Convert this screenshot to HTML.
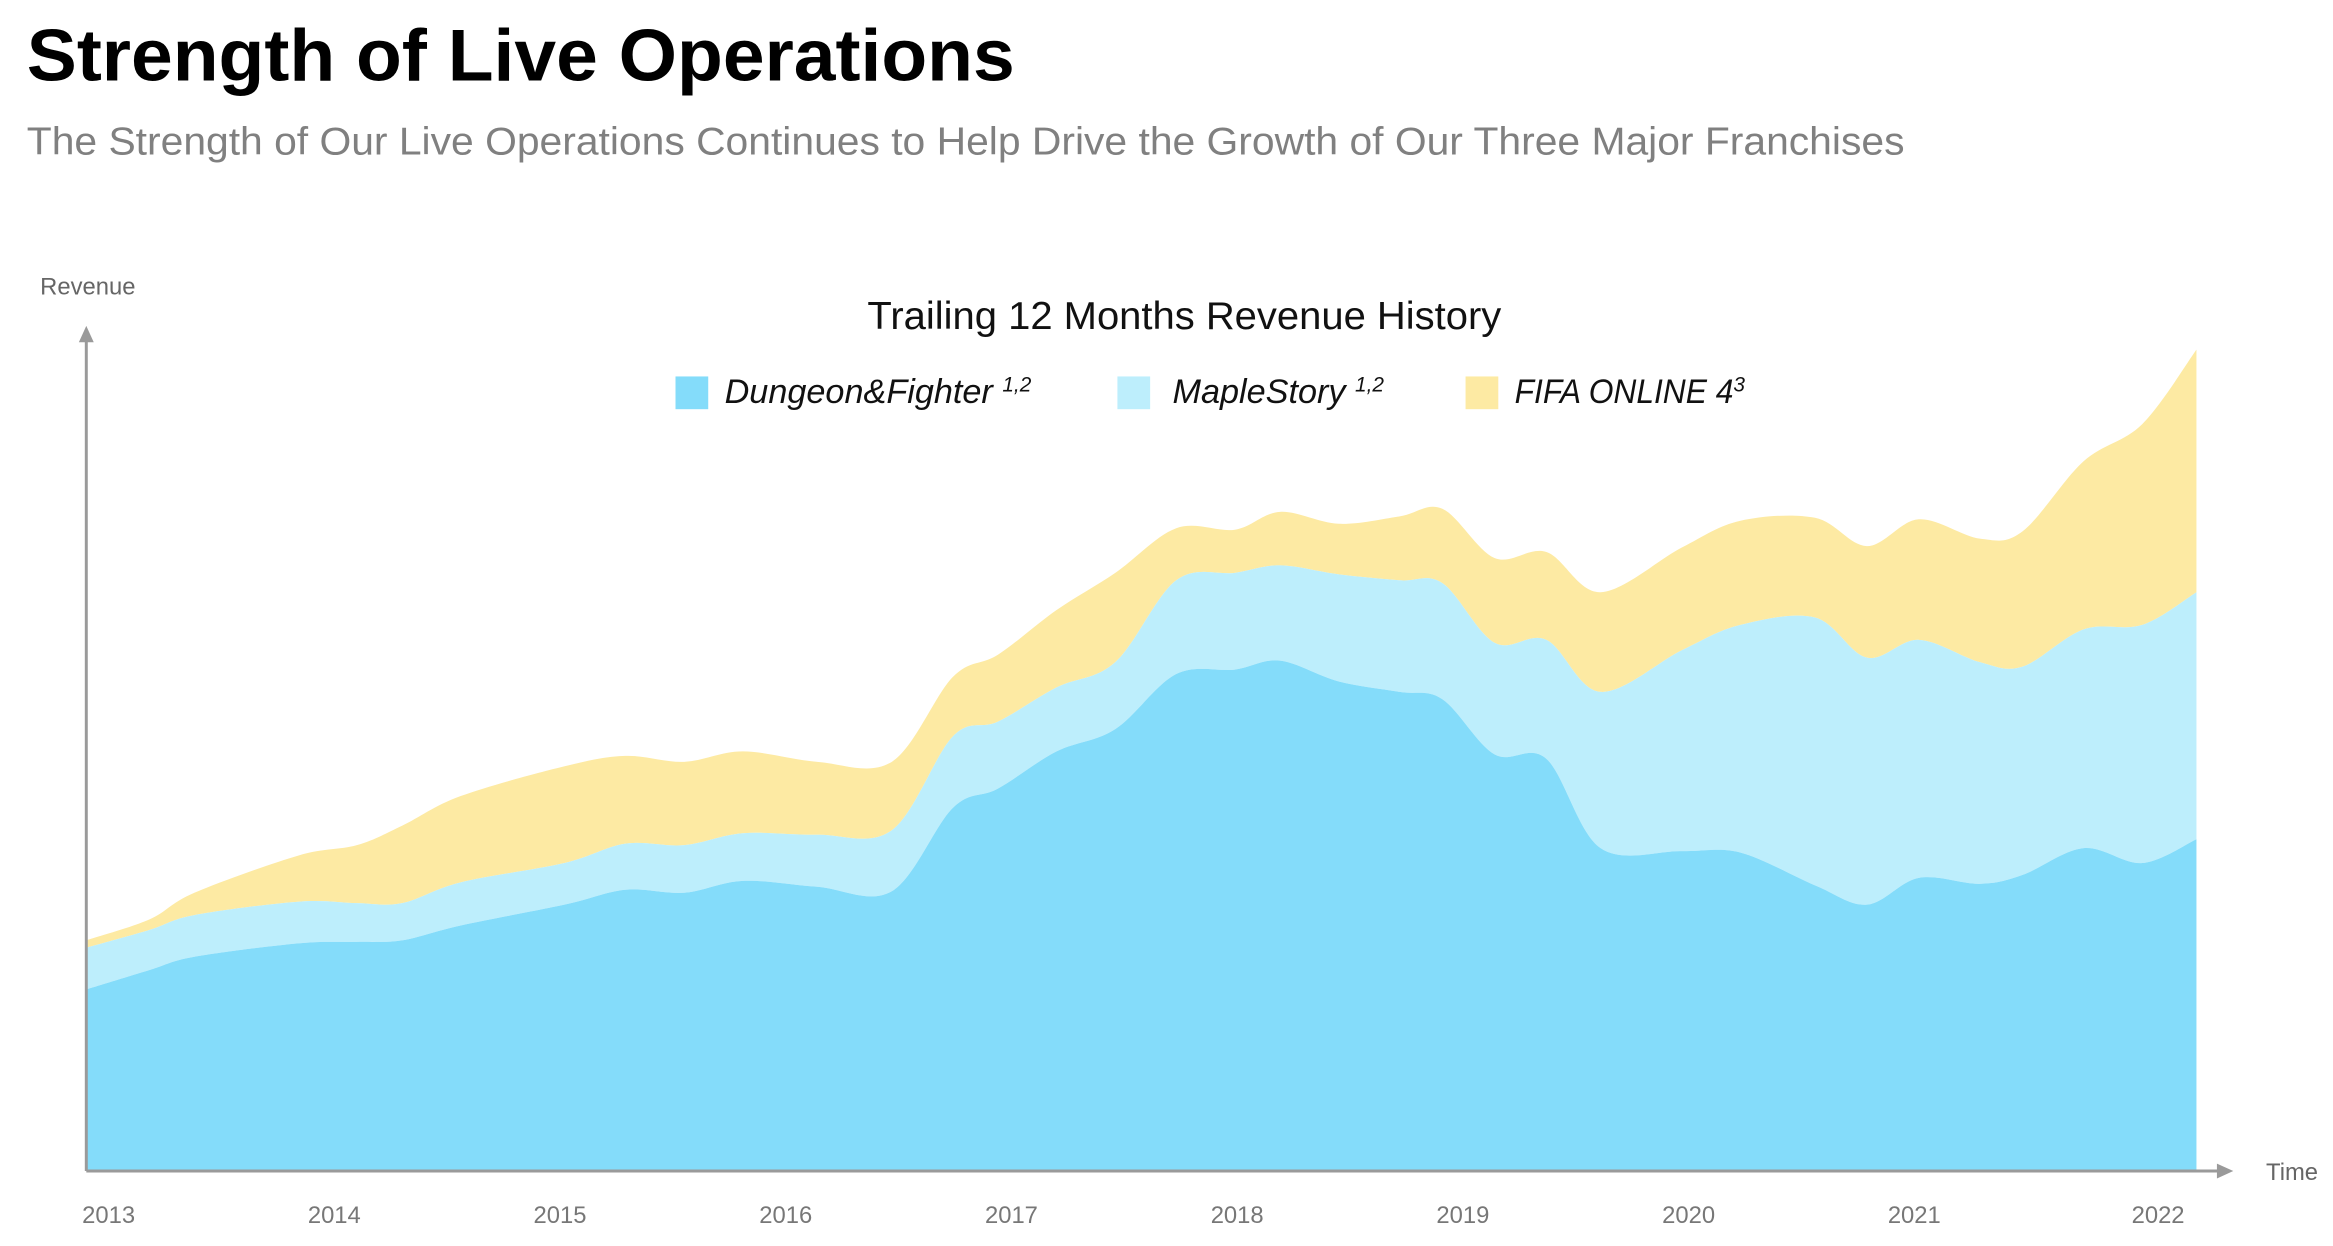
<!DOCTYPE html>
<html><head><meta charset="utf-8"><style>
html,body{margin:0;padding:0;background:#fff;}
svg{display:block;}
</style></head><body>
<svg id="chart" width="2333" height="1246" viewBox="0 0 1568 837.4" preserveAspectRatio="none" xmlns="http://www.w3.org/2000/svg" font-family="Liberation Sans, sans-serif">
<text x="18" y="54" font-size="49" font-weight="bold" fill="#000" textLength="664" lengthAdjust="spacingAndGlyphs">Strength of Live Operations</text>
<text x="18" y="104" font-size="26" fill="#808080" textLength="1262" lengthAdjust="spacingAndGlyphs">The Strength of Our Live Operations Continues to Help Drive the Growth of Our Three Major Franchises</text>
<text x="796" y="221" font-size="26" fill="#111" text-anchor="middle" textLength="426" lengthAdjust="spacingAndGlyphs">Trailing 12 Months Revenue History</text>
<g id="areas"></g>
<g id="axes">
<line x1="58" y1="787" x2="58" y2="226" stroke="#9a9a9a" stroke-width="2"/>
<polygon points="58,219 53,230 63,230" fill="#9a9a9a"/>
<line x1="58" y1="787" x2="1494" y2="787" stroke="#9a9a9a" stroke-width="2"/>
<polygon points="1501,787 1490,782 1490,792" fill="#9a9a9a"/>
<text x="27" y="198" font-size="16" fill="#666">Revenue</text>
<text x="1523" y="793" font-size="16" fill="#666">Time</text>
</g>
<g id="ticks"></g>
<g font-size="23" font-style="italic" fill="#111">
<rect x="454" y="253" width="22" height="22" fill="#84dcfa"/>
<text x="487" y="271">Dungeon&amp;Fighter <tspan font-size="14" dy="-8">1,2</tspan></text>
<rect x="751" y="253" width="22" height="22" fill="#bdeefc"/>
<text x="788" y="271">MapleStory <tspan font-size="14" dy="-8">1,2</tspan></text>
<rect x="985" y="253" width="22" height="22" fill="#fdeaa3"/>
<text x="1018" y="271" textLength="147" lengthAdjust="spacingAndGlyphs">FIFA ONLINE 4</text>
<text x="1165" y="263" font-size="14">3</text>
</g>
</svg>
<script>
const times=[2012.90,2013.18,2013.38,2013.84,2014.10,2014.30,2014.56,2015.02,2015.29,2015.55,2015.81,2016.14,2016.47,2016.74,2016.94,2017.20,2017.46,2017.73,2017.99,2018.19,2018.45,2018.72,2018.91,2019.14,2019.37,2019.61,2019.97,2020.23,2020.56,2020.79,2021.02,2021.29,2021.48,2021.75,2022.01,2022.25];
const dungeon=[122,135,144,153,154,155,165,179,189,187,195,191,188,244,257,282,297,334,337,343,329,322,317,280,277,217,215,214,192,179,197,193,199,217,207,223];
const maple=[28,27,28,28,26,25,29,28,31,32,32,35,41,48,45,43,45,63,65,64,72,75,78,75,80,105,135,153,180,166,160,149,140,147,160,166];
const fifa=[5,7,15,31,39,52,58,65,59,56,55,49,46,40,45,52,60,35,29,36,34,43,50,57,59,67,69,70,67,75,81,83,91,113,135,163];
const yearLabels=["2013","2014","2015","2016","2017","2018","2019","2020","2021","2022"];
const yearPos=[2013,2014,2015,2016,2017,2018,2019,2020,2021,2022.08];

const NS="http://www.w3.org/2000/svg";
const xS=t=>73+(t-2013)*151.7;
const yS=v=>787-v;
function curve(pts){
  let d="";
  for(let i=0;i<pts.length-1;i++){
    const p0=pts[Math.max(i-1,0)],p1=pts[i],p2=pts[i+1],p3=pts[Math.min(i+2,pts.length-1)];
    const c1=[p1[0]+(p2[0]-p0[0])/6,p1[1]+(p2[1]-p0[1])/6];
    const c2=[p2[0]-(p3[0]-p1[0])/6,p2[1]-(p3[1]-p1[1])/6];
    d+=` C${c1[0]},${c1[1]} ${c2[0]},${c2[1]} ${p2[0]},${p2[1]}`;
  }
  return d;
}
const areas=document.getElementById('areas');
const series=[[dungeon,'#84dcfa','area-dungeon-fighter'],[maple,'#bdeefc','area-maplestory'],[fifa,'#fdeaa3','area-fifa-online-4']];
let base=times.map(()=>0);
const paths=[];
series.forEach(([vals,col,name])=>{
  const top=base.map((b,i)=>b+vals[i]);
  const tp=times.map((t,i)=>[xS(t),yS(top[i])]);
  const bp=times.map((t,i)=>[xS(t),yS(base[i])]).reverse();
  const d=`M${tp[0][0]},${tp[0][1]}`+curve(tp)+` L${bp[0][0]},${bp[0][1]}`+curve(bp)+"Z";
  const p=document.createElementNS(NS,'path');
  p.setAttribute('d',d);p.setAttribute('fill',col);
  
  
  paths.push(p);
  base=top;
});
paths.reverse().forEach(p=>areas.appendChild(p));
const ticks=document.getElementById('ticks');
yearLabels.forEach((lab,i)=>{
  const t=document.createElementNS(NS,'text');
  t.setAttribute('x',xS(yearPos[i]));t.setAttribute('y',822);
  t.setAttribute('font-size','16');t.setAttribute('fill','#777');t.setAttribute('text-anchor','middle');
  t.textContent=lab;
  
  
  ticks.appendChild(t);
});
</script>
</body></html>
